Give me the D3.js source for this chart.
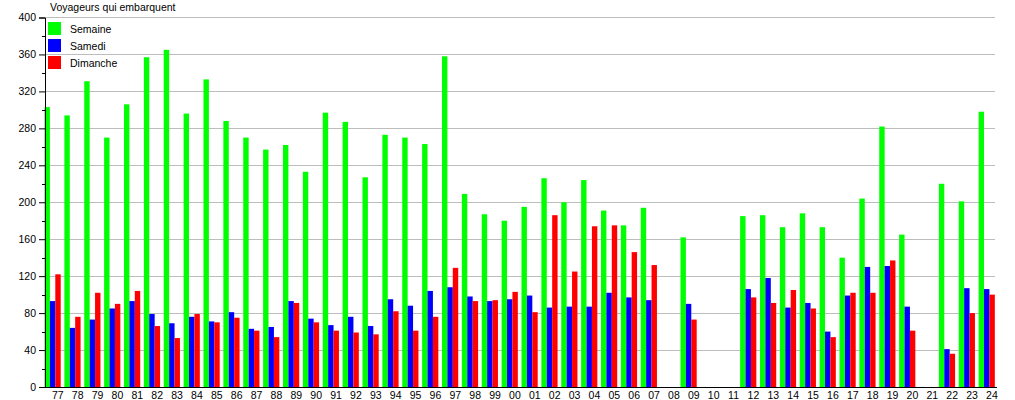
<!DOCTYPE html>
<html><head><meta charset="utf-8">
<script src="https://cdn.jsdelivr.net/npm/d3@7"></script>
<style>body{margin:0;background:#fff}svg{display:block;font-family:"Liberation Sans",Arial,sans-serif}</style>
</head><body><svg id="c" width="1015" height="400"></svg>
<script>
const categories = ["77","78","79","80","81","82","83","84","85","86","87","88","89","90","91","92","93","94","95","96","97","98","99","00","01","02","03","04","05","06","07","08","09","10","11","12","13","14","15","16","17","18","19","20","21","22","23","24"];
const semaine = [303,294,331,270,306,357,365,296,333,288,270,257,262,233,297,287,227,273,270,263,358,209,187,180,195,226,200,224,191,175,194,null,162,null,null,185,186,173,188,173,140,204,282,165,null,220,201,298];
const samedi = [93,64,73,85,93,79,69,76,71,81,63,65,93,74,67,76,66,95,88,104,108,98,93,95,99,86,87,87,102,97,94,null,90,null,null,106,118,86,91,60,99,130,131,87,null,41,107,106];
const dimanche = [122,76,102,90,104,66,53,79,70,75,61,54,91,70,61,59,57,82,61,76,129,93,94,103,81,186,125,174,175,146,132,null,73,null,null,97,91,105,85,54,102,102,137,61,null,36,80,100];
const seriesNames = ["Semaine","Samedi","Dimanche"];
const seriesColors = ["#00ff00","#0000ff","#ff0000"];
const yTicks = [0,40,80,120,160,200,240,280,320,360,400];
const yMinor = [20,60,100,140,180,220,260,300,340,380];
const title = "Voyageurs qui embarquent";

const svg = d3.select("#c");
const x = d3.scaleBand().domain(categories).range([45, 999]).paddingInner(0).paddingOuter(0);
const xs = d3.scaleBand().domain(seriesNames).range([-0.5, 15.7]);
const y = d3.scaleLinear().domain([0, 400]).range([387, 17.5]);

// gridlines
svg.append("g").selectAll("line").data(yTicks.filter(d => d > 0)).join("line")
  .attr("x1", 45).attr("x2", 995).attr("y1", d => y(d)).attr("y2", d => y(d))
  .attr("stroke", "#bdbdbd").attr("stroke-width", 1).attr("shape-rendering", "crispEdges");

// bars
const data = [semaine, samedi, dimanche];
seriesNames.forEach((s, k) => {
  svg.append("g").selectAll("rect")
    .data(categories.map((c, i) => ({c, v: data[k][i]})).filter(d => d.v != null))
    .join("rect")
    .attr("x", d => x(d.c) + xs(s))
    .attr("width", xs.bandwidth())
    .attr("y", d => y(d.v))
    .attr("height", d => y(0) - y(d.v))
    .attr("fill", seriesColors[k]);
});

// y axis
const yAxis = svg.append("g").attr("transform", "translate(45,0)")
  .call(d3.axisLeft(y).tickValues(yTicks).tickSize(6).tickPadding(3).tickFormat(d3.format("d")));
yAxis.select(".domain").attr("stroke", "#000");
yAxis.selectAll("text").attr("font-size", "10.5px").attr("fill", "#000").attr("font-family", "Liberation Sans, Arial, sans-serif");
svg.append("g").selectAll("line").data(yMinor).join("line")
  .attr("x1", 42).attr("x2", 45).attr("y1", d => Math.round(y(d)) + 0.5).attr("y2", d => Math.round(y(d)) + 0.5)
  .attr("stroke", "#000");

// x axis
const xAxis = svg.append("g").attr("transform", "translate(0,387)")
  .call(d3.axisBottom(x).tickSize(0).tickPadding(5));
xAxis.select(".domain").attr("stroke", "#000").attr("d", "M45,0.5H997");
xAxis.selectAll(".tick").attr("transform", d => `translate(${x(d) + 12.8},0)`);
xAxis.selectAll("text").attr("font-size", "10.5px").attr("fill", "#000").attr("font-family", "Liberation Sans, Arial, sans-serif");

// title
svg.append("text").attr("x", 50).attr("y", 11).attr("font-size", "10.5px").attr("fill", "#000").text(title);

// legend
const lg = svg.append("g").selectAll("g").data(seriesNames).join("g")
  .attr("transform", (d, i) => `translate(48,${22 + i * 17})`);
lg.append("rect").attr("width", 13).attr("height", 13).attr("fill", (d, i) => seriesColors[i]);
lg.append("text").attr("x", 22).attr("y", 11).attr("font-size", "10.5px").attr("fill", "#000").text(d => d);
</script></body></html>
